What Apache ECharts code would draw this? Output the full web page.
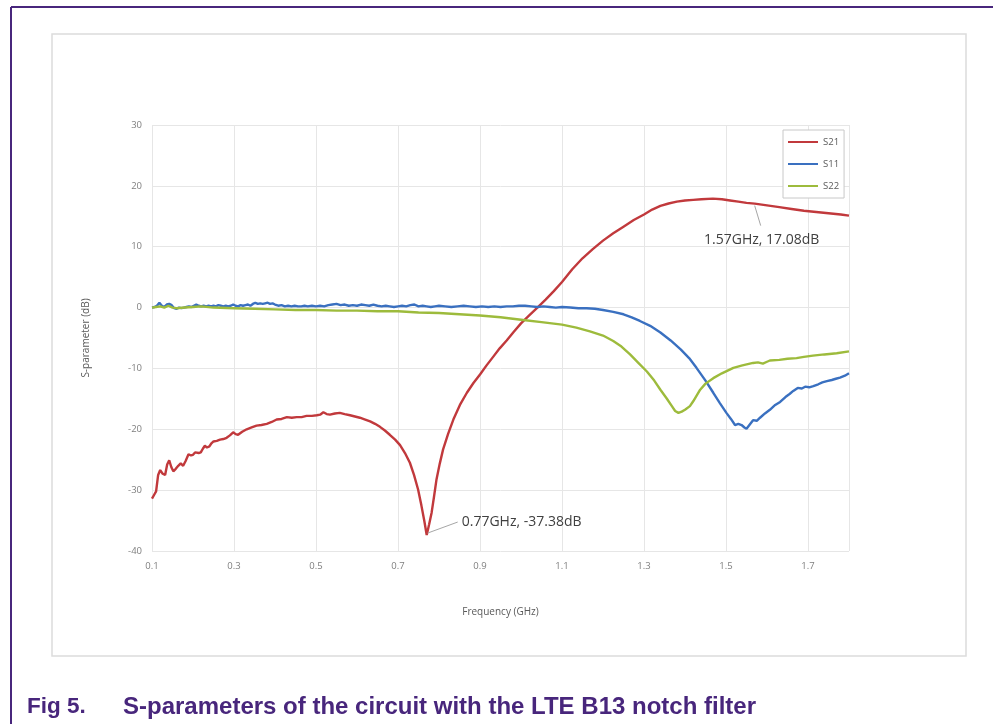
<!DOCTYPE html>
<html>
<head>
<meta charset="utf-8">
<script src="https://cdn.jsdelivr.net/npm/echarts@6/dist/echarts.min.js"></script>
<style>
html,body{margin:0;padding:0;background:#fff;}
#c{width:1003px;height:724px;}
</style>
</head>
<body>
<div id="c"></div>
<script>
// ---- data (frequency GHz, dB) ----
const seriesNames = ['S21', 'S11', 'S22'];
const xTicks = [0.1, 0.3, 0.5, 0.7, 0.9, 1.1, 1.3, 1.5, 1.7];
const yTicks = [-40, -30, -20, -10, 0, 10, 20, 30];

const s21 = [[0.100,-31.4],[0.105,-30.8],[0.110,-30.2],[0.115,-27.5],[0.120,-26.7],[0.126,-27.3],[0.132,-27.5],[0.137,-25.8],[0.142,-25.1],[0.147,-26.2],[0.152,-26.9],[0.158,-26.5],[0.164,-26.0],[0.170,-25.6],[0.176,-26.0],[0.182,-25.2],[0.189,-24.1],[0.195,-24.3],[0.200,-24.2],[0.205,-23.8],[0.209,-23.6],[0.214,-23.9],[0.219,-23.8],[0.224,-23.2],[0.229,-22.7],[0.234,-23.0],[0.240,-22.8],[0.245,-22.3],[0.250,-22.0],[0.258,-21.9],[0.266,-21.7],[0.274,-21.6],[0.282,-21.4],[0.290,-21.0],[0.298,-20.5],[0.304,-20.8],[0.310,-20.9],[0.320,-20.4],[0.331,-20.0],[0.343,-19.7],[0.355,-19.4],[0.367,-19.3],[0.380,-19.1],[0.392,-18.8],[0.404,-18.4],[0.416,-18.3],[0.429,-18.0],[0.441,-18.1],[0.453,-18.0],[0.465,-18.0],[0.477,-17.8],[0.490,-17.8],[0.502,-17.7],[0.510,-17.6],[0.518,-17.2],[0.526,-17.5],[0.534,-17.6],[0.546,-17.4],[0.558,-17.3],[0.570,-17.5],[0.583,-17.7],[0.595,-17.9],[0.607,-18.1],[0.620,-18.4],[0.632,-18.7],[0.644,-19.1],[0.656,-19.6],[0.668,-20.2],[0.680,-20.9],[0.693,-21.7],[0.705,-22.6],[0.717,-23.9],[0.729,-25.5],[0.739,-27.5],[0.749,-29.9],[0.757,-32.5],[0.764,-35.0],[0.770,-37.38],[0.776,-35.6],[0.782,-33.7],[0.788,-31.0],[0.794,-28.2],[0.802,-25.6],[0.810,-23.3],[0.822,-20.8],[0.835,-18.4],[0.851,-16.0],[0.868,-14.0],[0.884,-12.4],[0.900,-11.0],[0.916,-9.5],[0.932,-8.1],[0.948,-6.7],[0.965,-5.4],[0.982,-4.0],[1.000,-2.6],[1.020,-1.3],[1.040,0.0],[1.060,1.3],[1.080,2.7],[1.100,4.2],[1.125,6.3],[1.150,8.1],[1.175,9.6],[1.200,11.0],[1.225,12.2],[1.250,13.3],[1.275,14.4],[1.300,15.3],[1.320,16.1],[1.340,16.7],[1.360,17.1],[1.380,17.4],[1.400,17.6],[1.420,17.7],[1.440,17.8],[1.468,17.9],[1.490,17.8],[1.510,17.6],[1.530,17.4],[1.550,17.2],[1.570,17.08],[1.600,16.8],[1.630,16.5],[1.660,16.2],[1.690,15.9],[1.720,15.7],[1.750,15.5],[1.780,15.3],[1.800,15.1]];

const s11 = [[0.100,0.0],[0.106,0.1],[0.112,0.3],[0.118,0.8],[0.124,0.3],[0.130,0.1],[0.136,0.5],[0.142,0.6],[0.148,0.4],[0.154,-0.1],[0.160,-0.2],[0.166,0.0],[0.172,-0.1],[0.178,0.0],[0.184,0.1],[0.190,0.2],[0.196,0.1],[0.202,0.3],[0.208,0.5],[0.214,0.3],[0.220,0.2],[0.226,0.3],[0.232,0.2],[0.238,0.3],[0.244,0.2],[0.250,0.3],[0.256,0.2],[0.262,0.4],[0.268,0.3],[0.274,0.2],[0.280,0.3],[0.286,0.2],[0.292,0.3],[0.298,0.5],[0.304,0.3],[0.310,0.2],[0.316,0.4],[0.322,0.3],[0.328,0.4],[0.334,0.5],[0.340,0.3],[0.346,0.6],[0.352,0.8],[0.358,0.6],[0.364,0.7],[0.370,0.6],[0.376,0.7],[0.382,0.8],[0.388,0.6],[0.394,0.7],[0.400,0.5],[0.408,0.3],[0.416,0.4],[0.424,0.2],[0.432,0.3],[0.440,0.2],[0.448,0.3],[0.456,0.2],[0.464,0.2],[0.472,0.3],[0.480,0.2],[0.490,0.3],[0.500,0.2],[0.510,0.3],[0.520,0.2],[0.530,0.4],[0.540,0.5],[0.550,0.6],[0.560,0.4],[0.570,0.5],[0.580,0.3],[0.590,0.4],[0.600,0.3],[0.610,0.5],[0.620,0.4],[0.630,0.3],[0.640,0.5],[0.650,0.3],[0.660,0.2],[0.670,0.3],[0.680,0.2],[0.690,0.1],[0.700,0.2],[0.710,0.3],[0.720,0.2],[0.730,0.4],[0.740,0.5],[0.750,0.2],[0.760,0.3],[0.770,0.2],[0.780,0.1],[0.790,0.2],[0.800,0.3],[0.815,0.2],[0.830,0.1],[0.845,0.2],[0.860,0.3],[0.875,0.2],[0.890,0.1],[0.905,0.2],[0.920,0.1],[0.935,0.2],[0.950,0.1],[0.965,0.2],[0.980,0.2],[0.995,0.3],[1.010,0.3],[1.025,0.2],[1.040,0.1],[1.055,0.2],[1.070,0.1],[1.085,0.0],[1.100,0.1],[1.120,0.0],[1.140,-0.1],[1.160,-0.1],[1.180,-0.2],[1.200,-0.4],[1.225,-0.7],[1.250,-1.1],[1.270,-1.6],[1.290,-2.2],[1.315,-3.0],[1.340,-4.1],[1.365,-5.4],[1.390,-6.9],[1.410,-8.3],[1.428,-9.9],[1.450,-12.0],[1.469,-14.0],[1.485,-15.7],[1.501,-17.3],[1.512,-18.3],[1.522,-19.3],[1.530,-19.1],[1.538,-19.3],[1.545,-19.7],[1.550,-19.9],[1.558,-19.2],[1.566,-18.5],[1.575,-18.6],[1.583,-18.1],[1.595,-17.4],[1.607,-16.8],[1.620,-16.0],[1.632,-15.5],[1.645,-14.7],[1.655,-14.2],[1.664,-13.7],[1.675,-13.2],[1.685,-13.3],[1.693,-13.0],[1.703,-13.1],[1.713,-12.9],[1.725,-12.6],[1.735,-12.3],[1.746,-12.1],[1.758,-11.9],[1.768,-11.7],[1.778,-11.5],[1.790,-11.2],[1.800,-10.8]];

const s22 = [[0.100,0.0],[0.110,0.1],[0.120,0.2],[0.130,0.0],[0.140,0.3],[0.150,0.0],[0.160,-0.1],[0.180,0.0],[0.200,0.1],[0.220,0.2],[0.250,0.0],[0.300,-0.1],[0.350,-0.2],[0.400,-0.3],[0.450,-0.4],[0.500,-0.4],[0.550,-0.5],[0.600,-0.5],[0.650,-0.6],[0.700,-0.6],[0.750,-0.8],[0.800,-0.9],[0.850,-1.1],[0.900,-1.3],[0.950,-1.6],[1.000,-2.0],[1.050,-2.4],[1.100,-2.8],[1.135,-3.3],[1.168,-3.9],[1.200,-4.6],[1.225,-5.5],[1.245,-6.4],[1.266,-7.7],[1.285,-9.0],[1.307,-10.5],[1.325,-12.0],[1.340,-13.5],[1.355,-14.9],[1.368,-16.2],[1.376,-17.0],[1.384,-17.3],[1.392,-17.1],[1.400,-16.8],[1.412,-16.2],[1.420,-15.4],[1.428,-14.5],[1.437,-13.5],[1.450,-12.5],[1.469,-11.6],[1.490,-10.8],[1.518,-9.9],[1.540,-9.5],[1.566,-9.1],[1.578,-9.0],[1.590,-9.2],[1.600,-8.9],[1.607,-8.7],[1.630,-8.6],[1.650,-8.4],[1.672,-8.3],[1.690,-8.1],[1.712,-7.9],[1.740,-7.7],[1.770,-7.5],[1.800,-7.2]];

// annotation values
const notchPoint = [0.77, -37.38];
const peakPoint = [1.57, 17.08];
const notchLabel = '0.77GHz, -37.38dB';
const peakLabel = '1.57GHz, 17.08dB';
const xTitle = 'Frequency (GHz)';
const yTitle = 'S-parameter (dB)';
const caption1 = 'Fig 5.';
const caption2 = 'S-parameters of the circuit with the LTE B13 notch filter';

const colors = ['#c1393c', '#3a70c0', '#9dbb3c'];
const labelFont = '"Open Sans", "Liberation Sans", sans-serif';

const chart = echarts.init(document.getElementById('c'), null, {renderer: 'canvas'});

function lineSeries(name, data, color) {
  return {
    name: name, type: 'line', data: data, showSymbol: false, symbol: 'none',
    lineStyle: {color: color, width: 2.4}, itemStyle: {color: color},
    animation: false, z: 3
  };
}

chart.setOption({
  animation: false,
  backgroundColor: '#ffffff',
  color: colors,
  grid: {left: 152, right: 154, top: 125, bottom: 173, containLabel: false},
  xAxis: {
    type: 'value', min: 0.1, max: 1.8, interval: 0.2,
    name: xTitle, nameLocation: 'middle', nameGap: 56,
    nameTextStyle: {color: '#595959', fontSize: 10, fontFamily: labelFont},
    axisLine: {show: false}, axisTick: {show: false},
    axisLabel: {
      color: '#7f7f7f', fontSize: 9.5, fontFamily: labelFont, margin: 10, showMaxLabel: false,
      formatter: function (v) {
        const r = Math.round(v * 10) / 10;
        return xTicks.indexOf(r) >= 0 ? r.toFixed(1) : '';
      }
    },
    splitLine: {show: true, lineStyle: {color: '#e6e6e6', width: 1}}
  },
  yAxis: {
    type: 'value', min: -40, max: 30, interval: 10,
    name: yTitle, nameLocation: 'middle', nameGap: 61, nameRotate: 90,
    nameTextStyle: {color: '#595959', fontSize: 10, fontFamily: labelFont},
    axisLine: {show: false}, axisTick: {show: false},
    axisLabel: {color: '#7f7f7f', fontSize: 9.5, fontFamily: labelFont, margin: 10,
      formatter: function (v) { return yTicks.indexOf(v) >= 0 ? String(v) : ''; }},
    splitLine: {show: true, lineStyle: {color: '#e6e6e6', width: 1}}
  },
  legend: {
    orient: 'vertical', left: 783, top: 130,
    data: seriesNames,
    icon: 'rect', itemWidth: 30, itemHeight: 2, itemGap: 10,
    padding: [6, 5, 6, 5],
    borderColor: '#c8c8c8', borderWidth: 1, backgroundColor: '#ffffff',
    textStyle: {color: '#595959', fontSize: 9.5, fontFamily: labelFont, lineHeight: 12},
    selectedMode: false
  },
  series: [
    lineSeries(seriesNames[0], s21, colors[0]),
    lineSeries(seriesNames[1], s11, colors[1]),
    lineSeries(seriesNames[2], s22, colors[2])
  ]
});

// annotations and frames (placed via the chart's own coordinate conversion)
const pNotch = chart.convertToPixel({gridIndex: 0}, notchPoint);
const pPeak = chart.convertToPixel({gridIndex: 0}, peakPoint);
const annFont = '14px "Open Sans", "Liberation Sans", sans-serif';
const capFont1 = 'bold 22.5px "Liberation Sans", Arial, sans-serif';
const capFont2 = 'bold 24px "Liberation Sans", Arial, sans-serif';

chart.setOption({
  graphic: [
    // outer document frame (top + left)
    {type: 'line', shape: {x1: 11, y1: 7, x2: 993, y2: 7}, style: {stroke: '#48267c', lineWidth: 2}, silent: true, z: 10},
    {type: 'line', shape: {x1: 11, y1: 7, x2: 11, y2: 724}, style: {stroke: '#48267c', lineWidth: 2}, silent: true, z: 10},
    // inner picture frame
    {type: 'rect', shape: {x: 52, y: 34, width: 914, height: 622}, style: {fill: 'none', stroke: '#dcdcdc', lineWidth: 1.5}, silent: true, z: 0},
    // notch annotation
    {type: 'line', shape: {x1: pNotch[0] + 1, y1: pNotch[1] - 2, x2: pNotch[0] + 31, y2: pNotch[1] - 13}, style: {stroke: '#a6a6a6', lineWidth: 1}, silent: true, z: 5},
    {type: 'text', x: pNotch[0] + 35, y: pNotch[1] - 13, style: {text: notchLabel, font: annFont, fill: '#404040', textVerticalAlign: 'middle', textAlign: 'left'}, silent: true, z: 5},
    // peak annotation
    {type: 'line', shape: {x1: pPeak[0], y1: pPeak[1] + 2, x2: pPeak[0] + 6, y2: pPeak[1] + 22}, style: {stroke: '#a6a6a6', lineWidth: 1}, silent: true, z: 5},
    {type: 'text', x: pPeak[0] + 7, y: pPeak[1] + 36, style: {text: peakLabel, font: annFont, fill: '#404040', textVerticalAlign: 'middle', textAlign: 'center'}, silent: true, z: 5},
    // caption
    {type: 'text', x: 27, y: 707, style: {text: caption1, font: capFont1, fill: '#48267c', textVerticalAlign: 'middle'}, silent: true, z: 10},
    {type: 'text', x: 123, y: 707, style: {text: caption2, font: capFont2, fill: '#48267c', textVerticalAlign: 'middle'}, silent: true, z: 10}
  ]
});
</script>
</body>
</html>
